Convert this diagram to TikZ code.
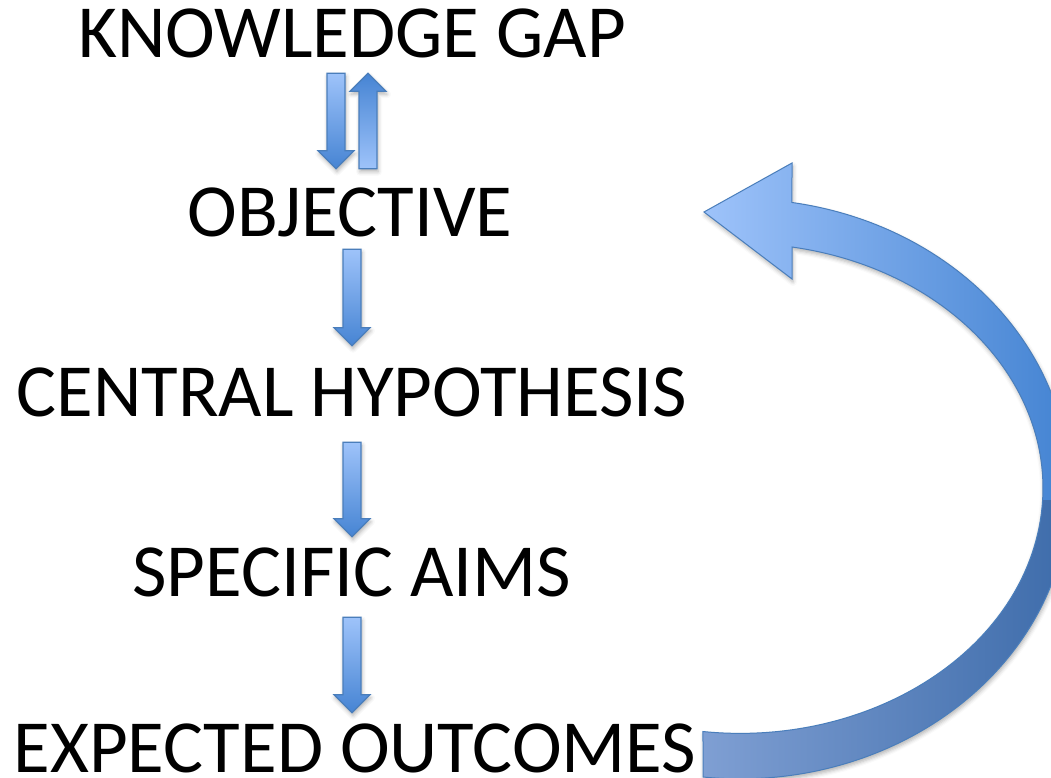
\documentclass[tikz,border=0pt]{standalone}
\usepackage{fontspec}
\setmainfont{Carlito}
\usetikzlibrary{calc,shadows.blur}

\definecolor{arrowlight}{HTML}{9EC3FA}
\definecolor{arrowdark}{HTML}{4684D3}
\definecolor{arrowline}{HTML}{4A7EBB}
\definecolor{loopmid}{HTML}{3F80D0}
\definecolor{loopdeep}{HTML}{3A69A8}
\definecolor{looptail}{HTML}{7F9FD3}

\newcommand{\stagefont}{\fontsize{75}{82}\selectfont}

% vertical block arrow, x taken from the first point
\newcommand{\vblockarrow}[3][]{%
  \path[blockarrow,#1] let \p1=(#2), \p2=(#3), \p3=($(\x1,\y2)!18pt!(\x1,\y1)$) in
    (\x1-9pt,\y1) -- (\x1+9pt,\y1) -- (\x1+9pt,\y3) -- (\x1+18pt,\y3) -- (\x1,\y2)
    -- (\x1-18pt,\y3) -- (\x1-9pt,\y3) -- cycle;}

% the long curved arrow on the right
\newcommand{\returnpath}{(703,-777)
  arc[start angle=-96.4, end angle=80.9, x radius=330pt, y radius=290pt]
  -- (792,-163) -- (704,-212) -- (792,-279) -- (792,-247)
  arc[start angle=80.1, end angle=-97, x radius=303pt, y radius=245pt] -- cycle}

\begin{document}
\begin{tikzpicture}[x=1pt,y=1pt,
    stage/.style={font=\stagefont,inner sep=0pt,anchor=base,text height=47pt,text depth=0pt},
    blockarrow/.style={draw=arrowline,line width=1.2pt,
      blur shadow={shadow xshift=1pt,shadow yshift=-3pt,shadow blur radius=4pt,shadow opacity=30}},
    down/.style={top color=arrowlight,bottom color=arrowdark},
    up/.style={top color=arrowdark,bottom color=arrowlight}]
  \useasboundingbox (0,0) rectangle (1051,-778);
  \clip (0,0) rectangle (1051,-778);

  \node[stage] (kgap) at (352,-58) {KNOWLEDGE GAP};
  \node[stage] (obj)  at (350,-236) {OBJECTIVE};
  \node[stage] (hyp)  at (352,-416) {CENTRAL HYPOTHESIS};
  \node[stage] (aims) at (352,-596) {SPECIFIC AIMS};
  \node[stage] (outc) at (355,-772) {EXPECTED OUTCOMES};

  \vblockarrow[down]{$(kgap.south)+(-16,-15)$}{$(obj.north)+(-14,20)$}
  \vblockarrow[up]{$(obj.north)+(18,20)$}{$(kgap.south)+(16,-15)$}
  \vblockarrow[down]{$(obj.south)+(2,-13)$}{$(hyp.north)+(0,23)$}
  \vblockarrow[down]{$(hyp.south)+(0,-26)$}{$(aims.north)+(0,12)$}
  \vblockarrow[down]{$(aims.south)+(0,-21)$}{$(outc.north)+(0,12)$}

  % back from the outcomes to the objective
  \path[blur shadow={shadow xshift=1pt,shadow yshift=-3pt,shadow blur radius=4pt,shadow opacity=30}]
    \returnpath;
  \begin{scope}
    \clip (600,0) rectangle (1100,-500);
    \shade[left color=arrowlight,right color=loopmid] \returnpath;
  \end{scope}
  \begin{scope}
    \clip (600,-500) rectangle (1100,-800);
    \shade[left color=looptail,right color=loopdeep] \returnpath;
  \end{scope}
  \draw[arrowline,line width=1pt,line join=miter] \returnpath;
\end{tikzpicture}
\end{document}
